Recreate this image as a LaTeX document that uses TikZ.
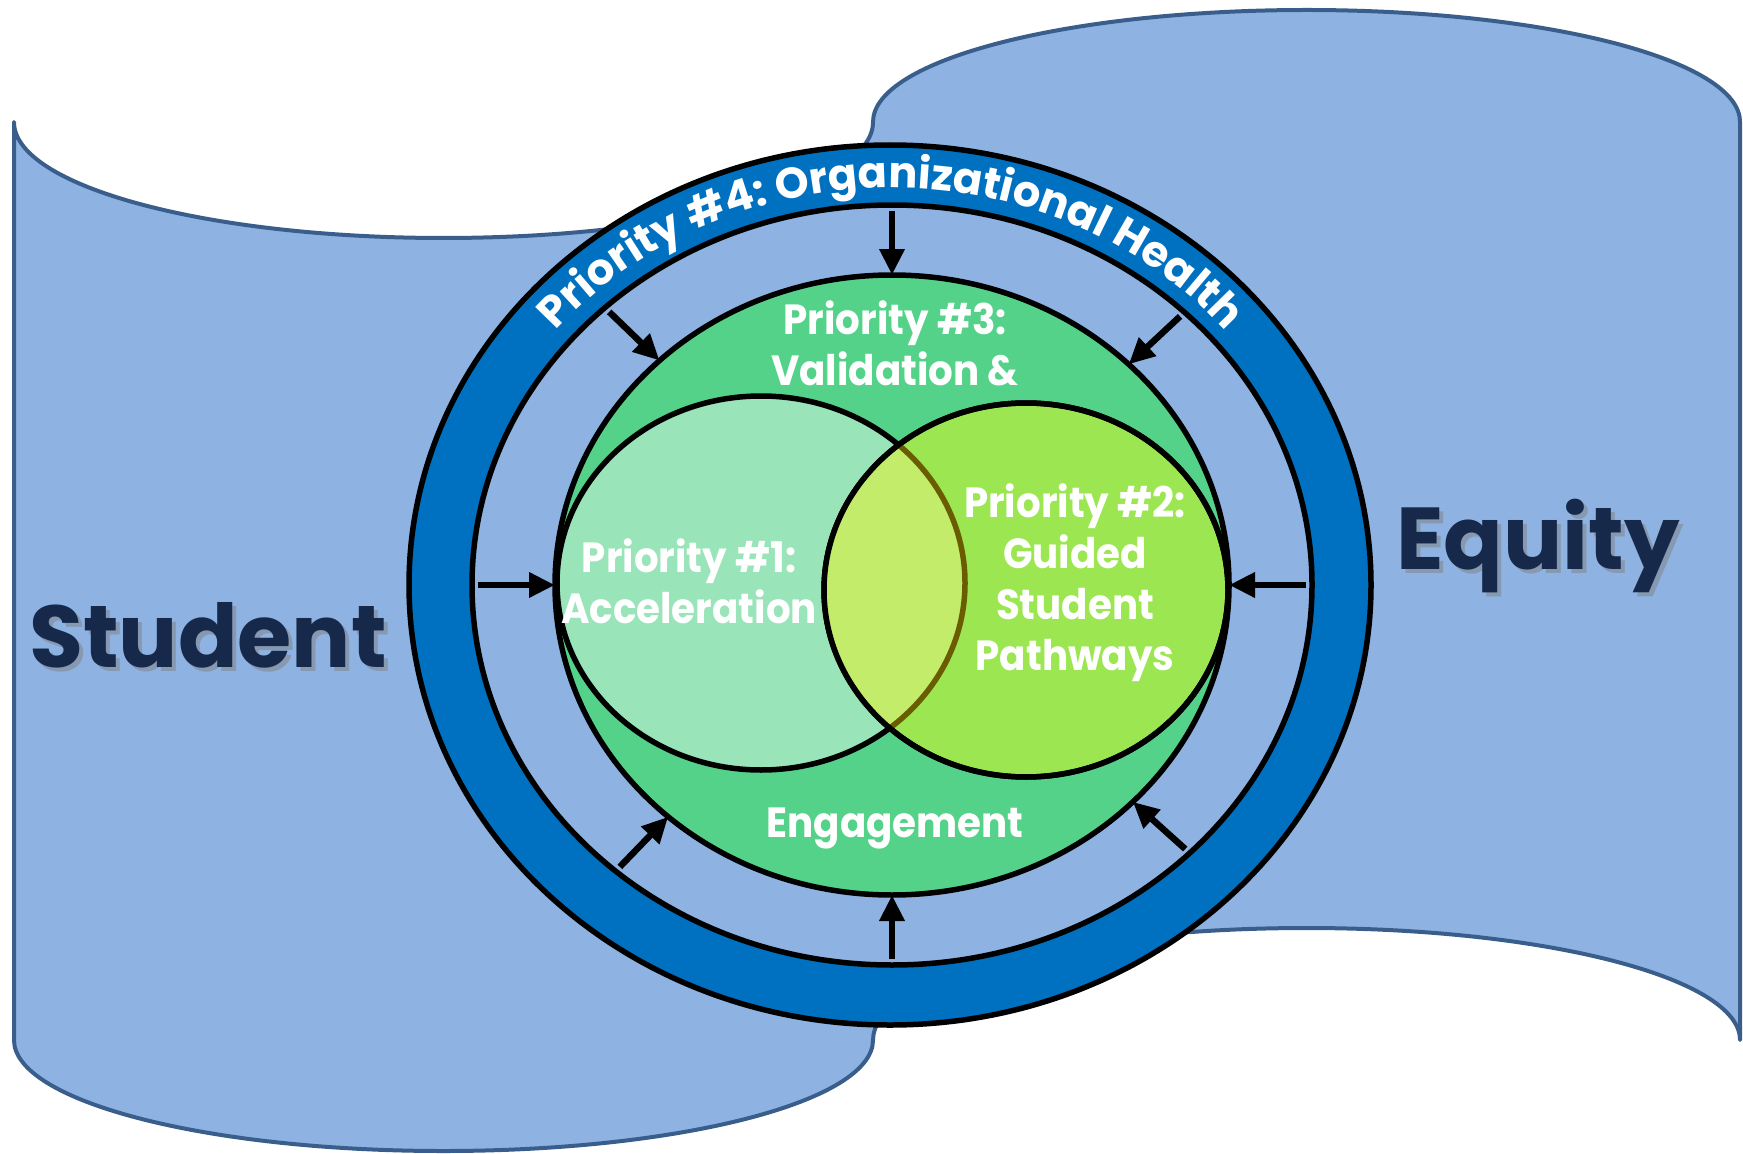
\documentclass[tikz,border=0pt]{standalone}
\usepackage{fontspec}
\setmainfont{Poppins}
\newfontfamily\priofont{Poppins}[FakeStretch=0.92]
\usepackage{tikz}
\usetikzlibrary{shapes.geometric,arrows.meta,decorations.text}

\definecolor{bannerfill}{HTML}{8EB3E2}
\definecolor{bannerline}{HTML}{3A5E8C}
\definecolor{ringblue}{HTML}{0070C0}
\definecolor{validgreen}{HTML}{55D28A}
\definecolor{accelmint}{HTML}{99E4B9}
\definecolor{pathlime}{HTML}{9BE651}
\definecolor{overlaplime}{HTML}{C3EC6B}
\definecolor{overlapline}{HTML}{6A5C00}
\definecolor{wordnavy}{HTML}{16294A}

\tikzset{
  oval/.style={ellipse, draw=black, line width=0.55mm, inner sep=0pt, outer sep=0pt},
  prio/.style={text=white, font=\priofont\bfseries\fontsize{12}{14.5}\selectfont, align=center},
  bigword/.style={text=wordnavy, font=\bfseries\fontsize{25}{30}\selectfont, anchor=base},
  push/.style={line width=0.65mm, shorten <=0.6mm, -{Triangle[length=2.6mm,width=2.4mm]}}
}

\begin{document}
\begin{tikzpicture}[x=0.1mm,y=0.1mm]
\useasboundingbox (0,0) rectangle (1743,1153);

\draw[bannerline, fill=bannerfill, line width=0.4mm, line join=round]
  (14,1031) arc[start angle=180, end angle=360, x radius=429.5, y radius=116]
  arc[start angle=180, end angle=0, x radius=433.5, y radius=112]
  -- (1740,113) arc[start angle=0, end angle=180, x radius=433.5, y radius=112]
  arc[start angle=0, end angle=-180, x radius=429.5, y radius=111] -- cycle;

\node[bigword, text=gray, opacity=.5] (studentshade) at (212,482) {Student};
\node[bigword] (student) at (208,486) {Student};
\node[bigword, text=gray, opacity=.5] (equityshade) at (1542,580) {Equity};
\node[bigword] (equity) at (1538,584) {Equity};

\node[oval, fill=ringblue, minimum width=96.2mm, minimum height=88mm] (outer) at (890,568) {};
\node[oval, fill=bannerfill, minimum width=84mm, minimum height=76mm] (inner) at (892,568) {};
\path[decorate, decoration={text along path, text align=center, text color=white,
  text={|\bfseries\fontsize{12.3}{14}\selectfont|Priority {\#}4: Organizational Health}}]
  (891,568) ++(150:436 and 397) arc[start angle=150, end angle=30, x radius=436, y radius=397];

\node[oval, fill=validgreen, minimum width=67.4mm, minimum height=62mm] (valid) at (892,568) {};
\node[oval, fill=accelmint, minimum width=40.8mm, minimum height=37.4mm] (accel) at (761,570) {};
\node[oval, fill=pathlime, minimum width=40.4mm, minimum height=37.4mm] (guided) at (1026,563) {};
\begin{scope}
  \clip (guided.center) ellipse[x radius=202, y radius=187];
  \fill[overlaplime] (accel.center) ellipse[x radius=204, y radius=187];
  \draw[overlapline, line width=0.55mm] (accel.center) ellipse[x radius=204, y radius=187];
\end{scope}
\draw[line width=0.55mm] (guided.center) ellipse[x radius=202, y radius=187];

\node[prio] (p3) at (895,810) {Priority \#3:\\Validation \&};
\node[prio] (engage) at (895,325) {Engagement};
\node[prio] (p1) at (689,572) {Priority \#1:\\Acceleration};
\node[prio] (p2) at (1075,570) {Priority \#2:\\Guided\\Student\\Pathways};

\foreach \a in {0,43,90,136,180,226,270,318}
  \draw[push] (inner.\a) -- (valid.\a);
\end{tikzpicture}
\end{document}
